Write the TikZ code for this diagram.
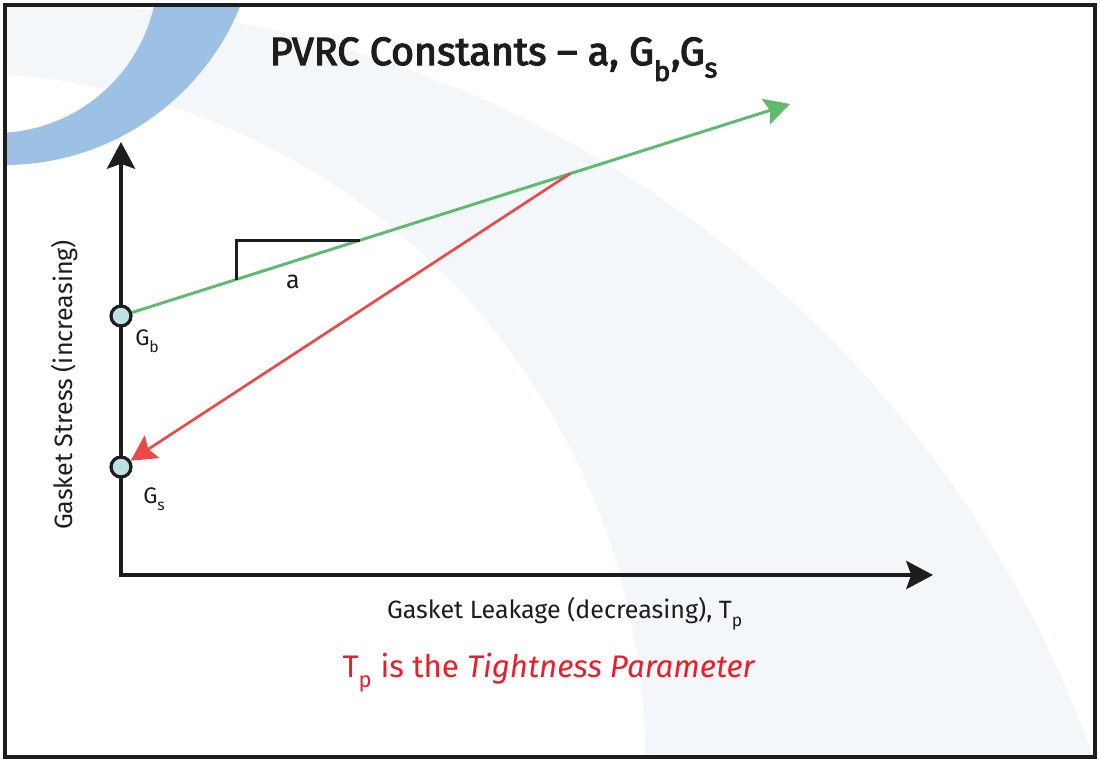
\documentclass[tikz,border=0pt]{standalone}
\usepackage{fontspec}
\setmainfont{Fira Sans}
\newfontfamily\titlefont[FakeBold=3]{Fira Sans}
\usetikzlibrary{arrows.meta, calc}

\definecolor{bandgray}{RGB}{243,247,249}
\definecolor{arcblue}{RGB}{157,192,229}
\definecolor{ptfill}{RGB}{190,225,230}
\definecolor{lgreen}{RGB}{93,186,110}
\definecolor{lred}{RGB}{237,72,72}
\definecolor{txtred}{RGB}{232,30,40}
\definecolor{ink}{RGB}{30,28,28}

\newcommand{\lowsub}[1]{\raisebox{-0.35ex}{\textsubscript{#1}}}

\tikzset{
  bigtip/.tip={Stealth[length=19pt, width=20pt, inset=3.5pt]},
  colortip/.tip={Stealth[length=18pt, width=19pt, inset=3pt]}
}

\begin{document}
\begin{tikzpicture}[x=0.025cm, y=-0.025cm,
    frame/.style={draw=ink, line width=2.85pt},
    axis/.style={draw=ink, line width=2.8pt},
    pt/.style={circle, draw=ink, fill=ptfill, line width=2.3pt, minimum size=14.2pt, inner sep=0pt},
    greenline/.style={draw=lgreen, line width=2.1pt},
    redline/.style={draw=lred, line width=1.9pt},
    slope/.style={draw=ink, line width=2.1pt},
    lbl/.style={text=ink, font=\fontsize{17.8}{21}\selectfont, inner sep=0pt}]
    \useasboundingbox (0,0) rectangle (1100,762);
    \fill[white] (0,0) rectangle (1100,762);

    % Background bands
    \begin{scope}
        \clip (5,5) rectangle (1095,757);
        \fill[bandgray] (25,1136) circle (1133);
        \fill[white] (-42,760) circle (687);
        \fill[arcblue, even odd rule] (4,-90) circle (255) (-5,-30) circle (163);
    \end{scope}

    % Frame
    \draw[frame] (5,5) rectangle (1095,757);

    % Title
    \node[text=ink, font=\fontsize{28}{34}\selectfont\titlefont, anchor=base, inner sep=0pt] (title) at (494,65)
        {PVRC Constants – a, G\lowsub{b},G\lowsub{s}};

    % Axes
    \coordinate (O) at (121,575);
    \coordinate (ytip) at (121,142);
    \coordinate (xtip) at (933,575);
    \draw[axis, bigtip-bigtip] (ytip) |- (xtip);

    % Constants on the stress axis
    \node[pt] (Gb) at (121,316) {};
    \node[pt] (Gs) at (121,467) {};
    \node[lbl, font=\fontsize{16}{19}\selectfont, anchor=base west] (Gblab) at (135,345) {G\lowsub{b}};
    \node[lbl, font=\fontsize{16}{19}\selectfont, anchor=base west] (Gslab) at (143,503) {G\lowsub{s}};

    % Loading line and unloading line
    \coordinate (gtip) at (790,104);
    \draw[greenline, -colortip] (Gb) -- (gtip);
    \coordinate (knee) at ($(Gb.center)!0.671!(gtip)$);
    \draw[redline, -colortip] (knee) -- (Gs);

    % Slope a
    \coordinate (s1) at ($(Gb.center)!0.172!(gtip)$);
    \coordinate (s2) at ($(Gb.center)!0.357!(gtip)$);
    \draw[slope] (s1) |- (s2);
    \node[lbl, anchor=base] (alab) at (293,288) {a};

    % Axis labels
    \node[lbl, anchor=base, rotate=90] (ylab) at (72,385) {Gasket Stress (increasing)};
    \node[lbl, anchor=base] (xlab) at (565,618) {Gasket Leakage (decreasing), T\lowsub{p}};
    \node[lbl, text=txtred, font=\fontsize{22.2}{26}\selectfont, anchor=base] (note) at (549,677)
        {T\lowsub{p} is the \textit{Tightness Parameter}};
\end{tikzpicture}
\end{document}
